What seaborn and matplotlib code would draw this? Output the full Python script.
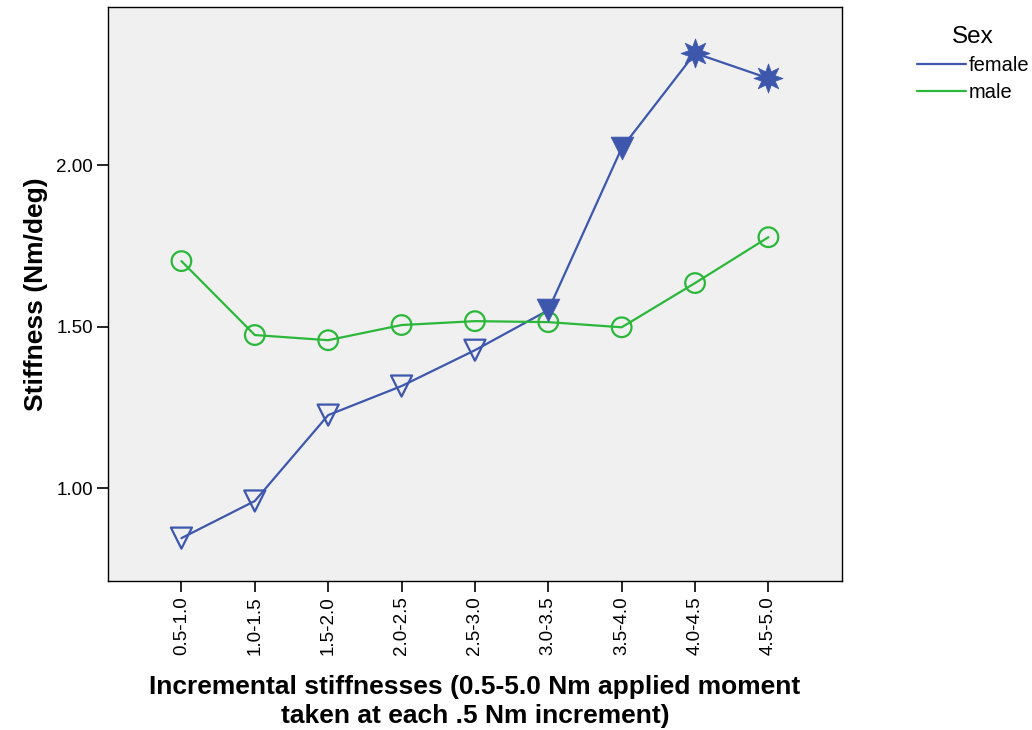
import matplotlib
matplotlib.use("Agg")
import matplotlib.pyplot as plt
import seaborn as sns
import pandas as pd

# Incremental stiffness by sex
increments = ["0.5-1.0", "1.0-1.5", "1.5-2.0", "2.0-2.5", "2.5-3.0",
              "3.0-3.5", "3.5-4.0", "4.0-4.5", "4.5-5.0"]
female = [0.845, 0.960, 1.226, 1.316, 1.427, 1.551, 2.053, 2.347, 2.269]
male = [1.703, 1.474, 1.458, 1.505, 1.517, 1.514, 1.498, 1.635, 1.777]
# marker style per female point
female_kind = ["open", "open", "open", "open", "open",
               "filled", "filled", "star", "star"]
yticks = [1.00, 1.50, 2.00]

BLUE = "#3d57ad"
GREEN = "#2bb83a"

sns.set_theme(style="ticks")
plt.rcParams["font.family"] = ["Liberation Sans", "DejaVu Sans"]
plt.rcParams["text.color"] = "black"
plt.rcParams["axes.labelcolor"] = "black"

df = pd.DataFrame({
    "increment": increments * 2,
    "pos": list(range(len(increments))) * 2,
    "stiffness": female + male,
    "Sex": ["female"] * len(female) + ["male"] * len(male),
})
fdf = pd.DataFrame({"pos": range(len(increments)), "stiffness": female,
                    "kind": female_kind})
mdf = pd.DataFrame({"pos": range(len(increments)), "stiffness": male})

fig = plt.figure(figsize=(10.32, 7.3), dpi=100)
ax = fig.add_axes([0.1047, 0.204, 0.711, 0.786])
ax.set_facecolor("#f0f0f0")

sns.lineplot(data=df, x="pos", y="stiffness", hue="Sex",
             palette={"female": BLUE, "male": GREEN}, linewidth=1.6,
             ax=ax, legend=True, zorder=2)

# male: open circles
sns.scatterplot(data=mdf, x="pos", y="stiffness", ax=ax, marker="o", s=200,
                facecolor="none", edgecolor=GREEN, linewidth=1.6,
                legend=False, zorder=3)
# female: open triangles, filled triangles, stars
sns.scatterplot(data=fdf[fdf.kind == "open"], x="pos", y="stiffness", ax=ax,
                marker="v", s=230, facecolor="none", edgecolor=BLUE,
                linewidth=1.6, legend=False, zorder=3)
sns.scatterplot(data=fdf[fdf.kind == "filled"], x="pos", y="stiffness", ax=ax,
                marker="v", s=270, color=BLUE, edgecolor=BLUE, linewidth=0.5,
                legend=False, zorder=3)
sns.scatterplot(data=fdf[fdf.kind == "star"], x="pos", y="stiffness", ax=ax,
                marker=(8, 1, 0), s=440, color=BLUE, edgecolor=BLUE,
                linewidth=0.5, legend=False, zorder=3)

ax.set_xlim(-1, len(increments))
ax.set_ylim(0.712, 2.489)
ax.set_xticks(range(len(increments)))
ax.set_xticklabels(increments, rotation=90, fontsize=13.5)
ax.set_yticks(yticks)
ax.set_yticklabels([f"{v:.2f}" for v in yticks], fontsize=13.5)
ax.tick_params(axis="both", length=8, width=1.2, color="black",
               labelcolor="black", pad=3)
for sp in ax.spines.values():
    sp.set_visible(True)
    sp.set_color("black")
    sp.set_linewidth(1.0)

ax.set_xlabel("Incremental stiffnesses (0.5-5.0 Nm applied moment\n"
              "taken at each .5 Nm increment)",
              fontsize=19, fontweight="bold", labelpad=14, linespacing=1.28)
ax.set_ylabel("Stiffness (Nm/deg)", fontsize=19, fontweight="bold",
              labelpad=6)

leg = ax.legend(title="Sex", loc="upper left",
                bbox_to_anchor=(0.8886, 0.964), bbox_transform=fig.transFigure,
                frameon=False, fontsize=14.5, title_fontsize=17.5,
                handlelength=2.45, handletextpad=0.1, labelspacing=0.4,
                borderaxespad=0, borderpad=0)
for h in leg.get_lines():
    h.set_linewidth(1.6)

fig.savefig("out.png", dpi=100)
